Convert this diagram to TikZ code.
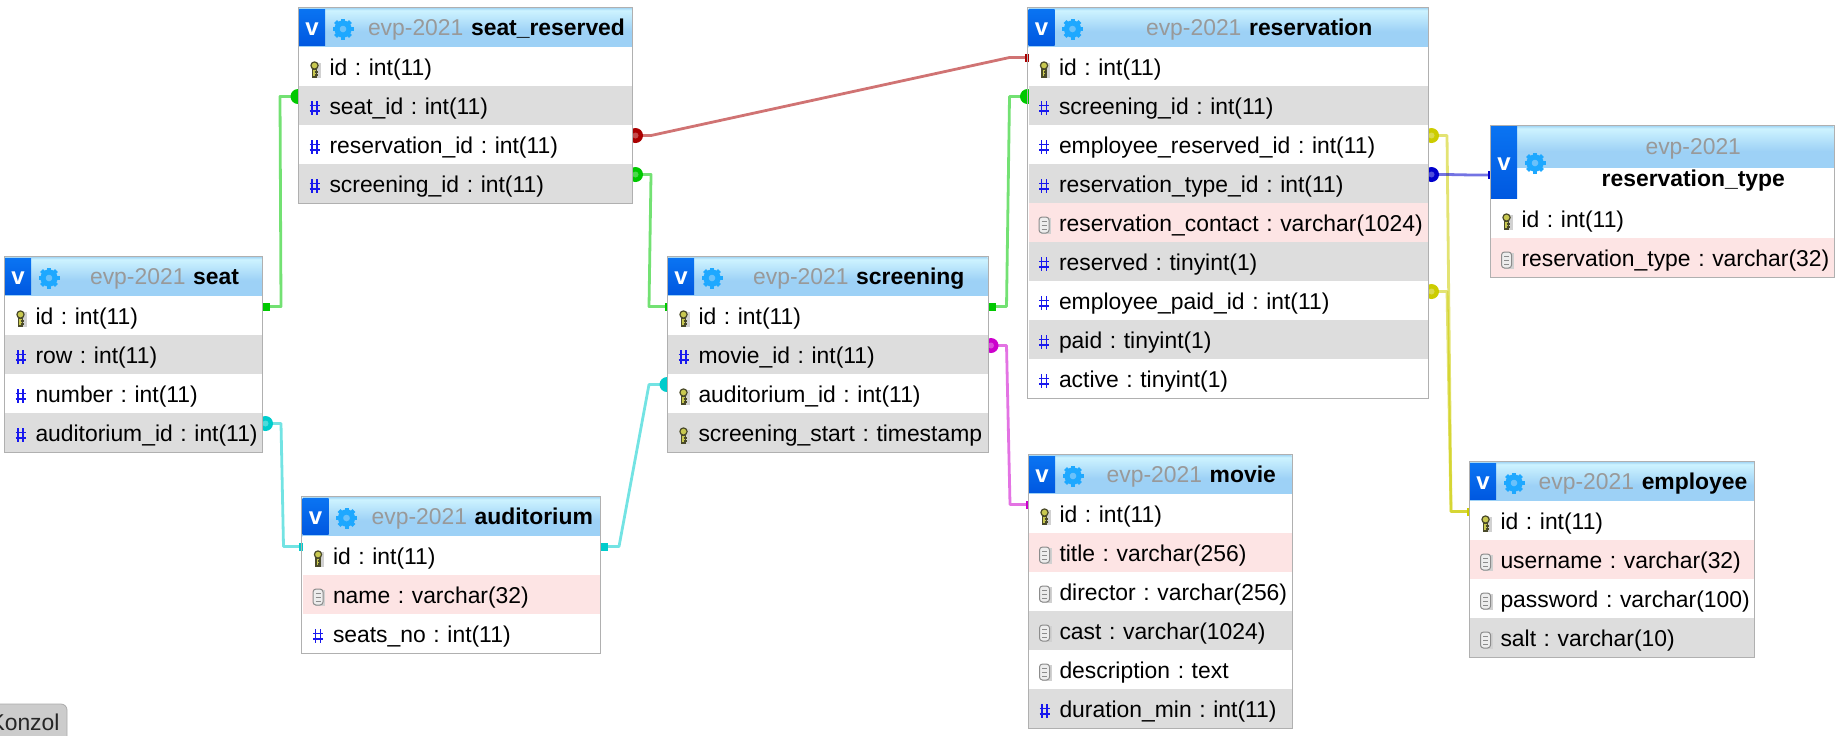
\documentclass[tikz,border=0pt]{standalone}
\usepackage{fontspec}
\setmainfont{Liberation Sans}
\usepackage{tikz}
\usetikzlibrary{positioning}

\definecolor{headblue}{HTML}{9DD1F6}
\definecolor{headpale}{HTML}{CDF3FF}
\definecolor{headtop}{HTML}{A6D8F5}
\definecolor{vtop}{HTML}{0A74F2}
\definecolor{vbottom}{HTML}{0058E0}
\definecolor{gearblue}{HTML}{1EA8FF}
\definecolor{schemagray}{HTML}{999999}
\definecolor{framegray}{HTML}{B0B0B0}
\definecolor{greyfill}{HTML}{DDDDDD}
\definecolor{pinkfill}{HTML}{FDE4E4}
\definecolor{hashblue}{HTML}{1818EE}
\definecolor{keyyellow}{HTML}{C8C850}
\definecolor{keydark}{HTML}{4A4A2A}
\definecolor{linkgreen}{HTML}{00C800}
\definecolor{linkred}{HTML}{AA0000}
\definecolor{linkteal}{HTML}{00CCCC}
\definecolor{linkmagenta}{HTML}{CC00CC}
\definecolor{linkyellow}{HTML}{CCCC00}
\definecolor{linkblue}{HTML}{0000CC}

\pgfdeclareverticalshading{headshade}{100bp}{color(0bp)=(headblue); color(45bp)=(headblue); color(72bp)=(headpale); color(75bp)=(headtop); color(100bp)=(headtop)}
\pgfdeclarelayer{links}
\pgfsetlayers{links,main}

\tikzset{
    titlebox/.style={anchor=north west, shading=headshade, align=center, inner sep=0pt, outer sep=0pt, minimum height=19.5pt, text height=10.6pt, text depth=2.8pt},
    namerow/.style={fill=white, align=center, inner sep=0pt, outer sep=0pt, minimum height=15.5pt, text height=9pt, text depth=5.8pt},
    rowbox/.style={align=left, inner sep=0pt, outer sep=0pt, minimum height=19.5pt, text height=11pt, text depth=2.2pt},
    plainrow/.style={rowbox, fill=white},
    greyrow/.style={rowbox, fill=greyfill},
    pinkrow/.style={rowbox, fill=pinkfill},
    vblock/.style={anchor=north west, top color=vtop, bottom color=vbottom, text=white, font=\fontsize{12}{13}\bfseries\selectfont, text width=13pt, align=center, inner sep=0pt, outer sep=0pt, minimum height=18pt, text height=8.6pt, text depth=0pt},
    frameline/.style={draw=framegray, line width=.7pt},
    relline/.style={line width=1.4pt, line join=round, opacity=.55},
    konzolbox/.style={fill=black!20, draw=black!33, rounded corners=3pt, inner sep=0pt, minimum width=42.5pt, minimum height=23pt, text height=9pt, text depth=5.3pt, text=black!85},
    keyicon/.pic={
        \fill[black!18] (2,-6) rectangle (6,9);
        \draw[keydark, fill=keyyellow, line width=.6pt] (-2,0) rectangle (2,8);
        \draw[keydark, fill=keyyellow, line width=.6pt] (0,-3.5) circle (3.6);
        \draw[keydark, line width=.6pt] (0,3) -- (3,3) (0,6) -- (3,6);
    },
    hashicon/.pic={
        \draw[hashblue, line width=.85pt] (-2.5,-7) -- (-2.5,7) (2.5,-7) -- (2.5,7) (-5,-2.5) -- (5,-2.5) (-5,3) -- (5,3);
    },
    docicon/.pic={
        \fill[black!18] (-3,-7) rectangle (7,9);
        \draw[black!45, fill=black!7, rounded corners=1.5pt, line width=.5pt] (-5,-8) rectangle (5,8);
        \draw[black!45, line width=.5pt] (-2.5,-4) -- (2.5,-4) (-2.5,0) -- (2.5,0) (-2.5,4) -- (2.5,4);
    },
    gearicon/.pic={
        \foreach \a in {0,45,...,315} {
            \draw[gearblue, line width=2pt] (\a:6) -- (\a:10.5);
        }
        \draw[gearblue, line width=2.6pt, fill=headblue!60!gearblue] (0,0) circle (6);
    },
    rightround/.pic={
        \fill (3.5,0) circle (7.5);
        \fill[white, opacity=.3] (3.5,0) circle (3);
    },
    leftround/.pic={
        \fill (-1,0) circle (7.5);
    },
    rightsquare/.pic={
        \fill (-1,-4) rectangle (8,4);
    },
    leftsquare/.pic={
        \fill (-3.5,-4) rectangle (1,4);
    }
}

\newcommand{\tabletitle}[4]{
    \node (#1) [titlebox] at (#2,#3) {\hspace*{31pt}\textcolor{schemagray}{evp-2021} \textbf{#4}};
    \node (#1-v) [vblock] at ([yshift=-.5pt]#1.north west) {v};
    \pic (#1-gear) at ([xshift=22pt,yshift=-10.5pt]#1.north west) {gearicon};
}
\newcommand{\fieldrow}[5]{
    \node (#1) [#3, below=0pt of #2] {\hspace*{15.25pt}#5};
    \pic (#1-icon) at ([xshift=7.75pt,yshift=-1.25pt]#1.west) {#4};
    \coordinate (#1-l) at ([yshift=-5.25pt]#1.north west);
    \coordinate (#1-r) at ([yshift=-5.25pt]#1.north east);
}
\newcommand{\frameit}[2]{
    \draw[frameline] ([shift={(-.75,-.75)}]#1.north west) rectangle ([shift={(.75,.75)}]#2.south east);
}
\newcommand{\relation}[5]{
    \draw[relline, color=#1] (#2) -- ++(19,0) -- ([xshift=-9.5pt]#3) -- (#3);
    \pic[color=#1] at (#2) {#4};
    \pic[color=#1] at (#3) {#5};
}

\begin{document}
\frenchspacing
\begin{tikzpicture}[x=.5pt, y=-.5pt, font=\fontsize{11.44}{13}\selectfont\frenchspacing]
    \useasboundingbox (0,0) rectangle (1839,735);

    \begin{scope}[every node/.style={text width=128.5pt}]
        \tabletitle{seat}{5}{257}{seat}
        \fieldrow{seat-id}{seat}{plainrow}{keyicon}{id : int(11)}
        \fieldrow{seat-row}{seat-id}{greyrow}{hashicon}{row : int(11)}
        \fieldrow{seat-number}{seat-row}{plainrow}{hashicon}{number : int(11)}
        \fieldrow{seat-aud}{seat-number}{greyrow}{hashicon}{auditorium\_id : int(11)}
        \frameit{seat}{seat-aud}
    \end{scope}

    \begin{scope}[every node/.style={text width=166.5pt}]
        \tabletitle{sr}{299}{8}{seat\_reserved}
        \fieldrow{sr-id}{sr}{plainrow}{keyicon}{id : int(11)}
        \fieldrow{sr-seat}{sr-id}{greyrow}{hashicon}{seat\_id : int(11)}
        \fieldrow{sr-res}{sr-seat}{plainrow}{hashicon}{reservation\_id : int(11)}
        \fieldrow{sr-scr}{sr-res}{greyrow}{hashicon}{screening\_id : int(11)}
        \frameit{sr}{sr-scr}
    \end{scope}

    \begin{scope}[every node/.style={text width=148.75pt}]
        \tabletitle{aud}{302.5}{497}{auditorium}
        \fieldrow{aud-id}{aud}{plainrow}{keyicon}{id : int(11)}
        \fieldrow{aud-name}{aud-id}{pinkrow}{docicon}{name : varchar(32)}
        \fieldrow{aud-seats}{aud-name}{plainrow}{hashicon}{seats\_no : int(11)}
        \frameit{aud}{aud-seats}
    \end{scope}

    \begin{scope}[every node/.style={text width=159.75pt}]
        \tabletitle{scr}{668}{257}{screening}
        \fieldrow{scr-id}{scr}{plainrow}{keyicon}{id : int(11)}
        \fieldrow{scr-movie}{scr-id}{greyrow}{hashicon}{movie\_id : int(11)}
        \fieldrow{scr-aud}{scr-movie}{plainrow}{keyicon}{auditorium\_id : int(11)}
        \fieldrow{scr-start}{scr-aud}{greyrow}{keyicon}{screening\_start : timestamp}
        \frameit{scr}{scr-start}
    \end{scope}

    \begin{scope}[every node/.style={text width=199.75pt}]
        \tabletitle{res}{1028.5}{8}{reservation}
        \fieldrow{res-id}{res}{plainrow}{keyicon}{id : int(11)}
        \fieldrow{res-scr}{res-id}{greyrow}{hashicon}{screening\_id : int(11)}
        \fieldrow{res-emp}{res-scr}{plainrow}{hashicon}{employee\_reserved\_id : int(11)}
        \fieldrow{res-type}{res-emp}{greyrow}{hashicon}{reservation\_type\_id : int(11)}
        \fieldrow{res-contact}{res-type}{pinkrow}{docicon}{reservation\_contact : varchar(1024)}
        \fieldrow{res-reserved}{res-contact}{greyrow}{hashicon}{reserved : tinyint(1)}
        \fieldrow{res-paidby}{res-reserved}{plainrow}{hashicon}{employee\_paid\_id : int(11)}
        \fieldrow{res-paid}{res-paidby}{greyrow}{hashicon}{paid : tinyint(1)}
        \fieldrow{res-active}{res-paid}{plainrow}{hashicon}{active : tinyint(1)}
        \frameit{res}{res-active}
    \end{scope}

    \begin{scope}[every node/.style={text width=171.25pt}]
        \node (rt) [titlebox, minimum height=21pt] at (1491,126) {\hspace*{31pt}\textcolor{schemagray}{evp-2021}};
        \node (rt-name) [namerow, below=0pt of rt] {\hspace*{31pt}\textbf{reservation\_type}};
        \node (rt-v) [vblock, minimum height=36.5pt, text height=7.5pt] at (rt.north west) {v};
        \pic (rt-gear) at ([xshift=22pt,yshift=-18.5pt]rt.north west) {gearicon};
        \coordinate (rt-name-l) at ([yshift=4.25pt]rt-name.west);
        \fieldrow{rt-id}{rt-name}{plainrow}{keyicon}{id : int(11)}
        \fieldrow{rt-type}{rt-id}{pinkrow}{docicon}{reservation\_type : varchar(32)}
        \frameit{rt}{rt-type}
    \end{scope}

    \begin{scope}[every node/.style={text width=131.25pt}]
        \tabletitle{movie}{1029}{455}{movie}
        \fieldrow{movie-id}{movie}{plainrow}{keyicon}{id : int(11)}
        \fieldrow{movie-title}{movie-id}{pinkrow}{docicon}{title : varchar(256)}
        \fieldrow{movie-director}{movie-title}{plainrow}{docicon}{director : varchar(256)}
        \fieldrow{movie-cast}{movie-director}{greyrow}{docicon}{cast : varchar(1024)}
        \fieldrow{movie-desc}{movie-cast}{plainrow}{docicon}{description : text}
        \fieldrow{movie-min}{movie-desc}{greyrow}{hashicon}{duration\_min : int(11)}
        \frameit{movie}{movie-min}
    \end{scope}

    \begin{scope}[every node/.style={text width=142pt}]
        \tabletitle{emp}{1470}{462}{employee}
        \fieldrow{emp-id}{emp}{plainrow}{keyicon}{id : int(11)}
        \fieldrow{emp-user}{emp-id}{pinkrow}{docicon}{username : varchar(32)}
        \fieldrow{emp-pass}{emp-user}{plainrow}{docicon}{password : varchar(100)}
        \fieldrow{emp-salt}{emp-pass}{greyrow}{docicon}{salt : varchar(10)}
        \frameit{emp}{emp-salt}
    \end{scope}

    \node (konzol) [konzolbox] at (24.5,727) {Konzol};

    \begin{pgfonlayer}{links}
        \relation{linkgreen}{seat-id-r}{sr-seat-l}{rightsquare}{leftround}
        \relation{linkgreen}{sr-scr-r}{scr-id-l}{rightround}{leftsquare}
        \relation{linkred}{sr-res-r}{res-id-l}{rightround}{leftsquare}
        \relation{linkgreen}{scr-id-r}{res-scr-l}{rightsquare}{leftround}
        \relation{linkteal}{seat-aud-r}{aud-id-l}{rightround}{leftsquare}
        \relation{linkteal}{aud-id-r}{scr-aud-l}{rightsquare}{leftround}
        \relation{linkmagenta}{scr-movie-r}{movie-id-l}{rightround}{leftsquare}
        \relation{linkyellow}{res-emp-r}{emp-id-l}{rightround}{leftsquare}
        \relation{linkyellow}{res-paidby-r}{emp-id-l}{rightround}{leftsquare}
        \relation{linkblue}{res-type-r}{rt-name-l}{rightround}{leftsquare}
    \end{pgfonlayer}
\end{tikzpicture}
\end{document}
